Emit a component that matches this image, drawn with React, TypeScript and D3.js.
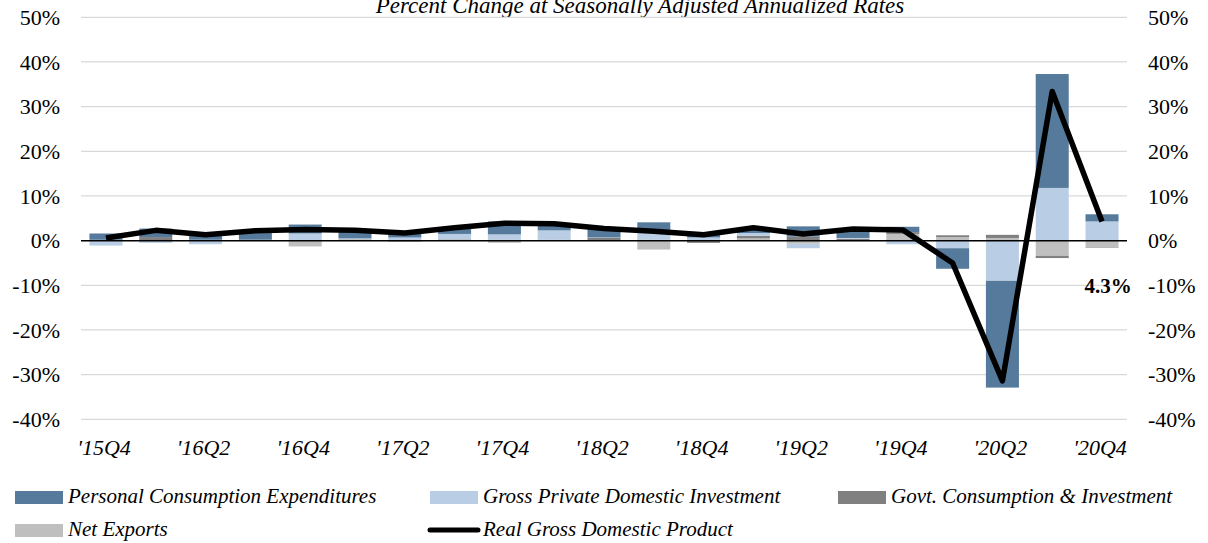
import React from "react";
import * as d3 from "d3";

// quarters, '15Q4 .. '20Q4
const quarters = [
  "'15Q4", "'16Q1", "'16Q2", "'16Q3", "'16Q4", "'17Q1", "'17Q2", "'17Q3", "'17Q4",
  "'18Q1", "'18Q2", "'18Q3", "'18Q4", "'19Q1", "'19Q2", "'19Q3", "'19Q4",
  "'20Q1", "'20Q2", "'20Q3", "'20Q4",
];
// contributions to percent change, percentage points
const pce = [1.4, 1.9, 1.7, 2.0, 2.0, 1.7, 1.2, 1.3, 2.9, 1.5, 2.0, 2.3, 1.1, 1.2, 2.3, 2.1, 1.2, -4.6, -23.9, 25.5, 1.6];
const gpdi = [-1.0, -0.5, -0.8, 0.1, 1.5, 0.2, 0.6, 1.2, 1.2, 2.1, 0.1, 1.6, 0.7, 0.6, -1.0, 0.2, -0.8, -1.7, -9.0, 11.8, 4.3];
const govt = [0.2, 0.7, 0.1, 0.1, 0.1, 0.1, 0.1, 0.1, 0.2, 0.2, 0.6, 0.2, -0.4, 0.6, 0.9, 0.4, 0.4, 0.4, 0.7, -0.5, -0.1];
const netExports = [-0.1, 0.1, 0.1, 0.0, -1.3, 0.2, -0.3, 0.2, -0.5, 0.0, 0.0, -2.0, -0.1, 0.5, -0.7, -0.1, 1.5, 0.8, 0.6, -3.4, -1.5];
const gdp = [0.6, 2.3, 1.3, 2.2, 2.5, 2.3, 1.7, 2.9, 3.9, 3.8, 2.7, 2.1, 1.3, 2.9, 1.5, 2.6, 2.4, -5.0, -31.4, 33.4, 4.3];

const yTicks = [-40, -30, -20, -10, 0, 10, 20, 30, 40, 50];

const colors: Record<string, string> = {
  pce: "#557a9b",
  gpdi: "#b9cde5",
  govt: "#808080",
  nx: "#bfbfbf",
};

const FONT = "'Liberation Serif', 'DejaVu Serif', serif";

export default function App() {
  const width = 1208, height = 543;
  const left = 81, right = 1127, top = 17.3, bottom = 419.3;

  const x = d3.scaleBand().domain(quarters).range([left, right])
    .paddingInner(0.337).paddingOuter(0.17);
  const y = d3.scaleLinear().domain([-40, 50]).range([bottom, top]);

  const rows = quarters.map((q, i) => ({
    q, pce: pce[i], gpdi: gpdi[i], govt: govt[i], nx: netExports[i],
  }));
  // stacked from the axis outward: net exports, govt, investment, consumption
  const stack = d3.stack<any>()
    .keys(["nx", "govt", "gpdi", "pce"])
    .offset(d3.stackOffsetDiverging);
  const series = stack(rows);

  const line = d3.line<number>()
    .x((_, i) => x(quarters[i])! + x.bandwidth() / 2)
    .y((d) => y(d));

  const tickLabels = quarters.filter((_, i) => i % 2 === 0);
  const last = quarters.length - 1;

  return (
    <svg width={width} height={height}
      style={{ position: "absolute", left: 0, top: 0, background: "#fff" }}
      fontFamily={FONT}>
      <text x={640} y={13} textAnchor="middle" fontStyle="italic" fontSize={23}>
        Percent Change at Seasonally Adjusted Annualized Rates
      </text>

      {yTicks.map((t) => (
        <g key={t}>
          <line x1={left} x2={right} y1={y(t)} y2={y(t)} stroke="#d9d9d9" strokeWidth={1.3} />
          <text x={60} y={y(t)} dy="0.35em" textAnchor="end" fontSize={22}>{t}%</text>
          <text x={1148} y={y(t)} dy="0.35em" textAnchor="start" fontSize={22}>{t}%</text>
        </g>
      ))}

      {series.map((s) => (
        <g key={s.key} fill={colors[s.key]}>
          {s.map((d: any, i: number) => (
            <rect key={i} x={x(quarters[i])} width={x.bandwidth()}
              y={y(Math.max(d[0], d[1]))}
              height={Math.abs(y(d[0]) - y(d[1]))} />
          ))}
        </g>
      ))}

      <line x1={left} x2={right} y1={y(0)} y2={y(0)} stroke="#000" strokeWidth={1.5} />

      <path d={line(gdp) || ""} fill="none" stroke="#000" strokeWidth={5.5} strokeLinejoin="round" />

      <text x={x(quarters[last])! + x.bandwidth() / 2 + 6} y={293} textAnchor="middle"
        fontWeight="bold" fontSize={21}>{gdp[last]}%</text>

      {tickLabels.map((q) => (
        <text key={q} x={x(q)! + x.bandwidth() / 2 - 2} y={455} textAnchor="middle"
          fontStyle="italic" fontSize={22}>{q}</text>
      ))}

      <g fontStyle="italic" fontSize={21}>
        <rect x={15} y={491} width={48} height={13} fill={colors.pce} />
        <text x={68} y={503}>Personal Consumption Expenditures</text>
        <rect x={430} y={491} width={48} height={13} fill={colors.gpdi} />
        <text x={483} y={503}>Gross Private Domestic Investment</text>
        <rect x={838} y={491} width={48} height={13} fill={colors.govt} />
        <text x={891} y={503}>Govt. Consumption &amp; Investment</text>
        <rect x={15} y={524} width={48} height={13} fill={colors.nx} />
        <text x={68} y={536}>Net Exports</text>
        <line x1={430} x2={478} y1={530} y2={530} stroke="#000" strokeWidth={5} strokeLinecap="round" />
        <text x={483} y={536}>Real Gross Domestic Product</text>
      </g>
    </svg>
  );
}
